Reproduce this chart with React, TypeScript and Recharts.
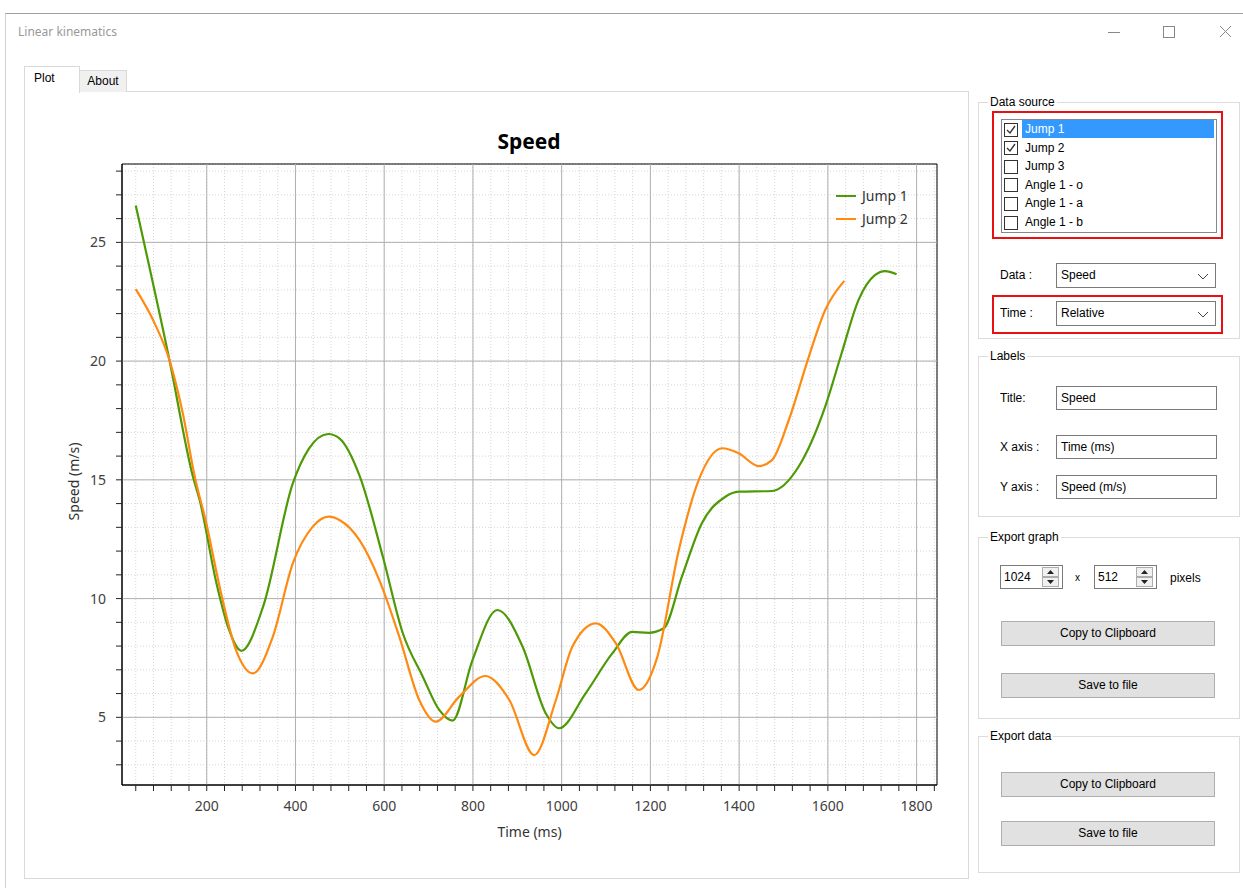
import { CSSProperties } from "react";
import {
  Label,
  Legend,
  Line,
  LineChart,
  CartesianGrid,
  ReferenceArea,
  ReferenceLine,
  XAxis,
  YAxis,
} from "recharts";

// values
const jump1Time = [40, 116, 169, 184, 222, 250, 278, 327, 394, 430, 474, 499, 545, 597, 642, 687, 724, 754, 799, 855, 912, 964, 994, 1054, 1114, 1159, 1196, 1230, 1271, 1316, 1369, 1399, 1474, 1534, 1594, 1631, 1669, 1706, 1729, 1755];
const jump1Speed = [26.55, 20.04, 15.13, 14.15, 10.64, 8.7, 7.8, 9.66, 14.85, 16.3, 16.93, 16.75, 15.15, 11.76, 8.54, 6.71, 5.31, 4.86, 7.41, 9.52, 7.97, 5.17, 4.54, 6.01, 7.69, 8.6, 8.56, 8.75, 10.92, 13.17, 14.29, 14.5, 14.53, 15.55, 18.08, 20.33, 22.57, 23.62, 23.79, 23.66];

const jump2Time = [40, 79, 116, 146, 173, 199, 229, 266, 304, 349, 394, 439, 475, 499, 544, 589, 634, 679, 716, 769, 828, 882, 938, 987, 1024, 1077, 1122, 1174, 1215, 1264, 1309, 1362, 1399, 1444, 1474, 1512, 1557, 1594, 1637];
const jump2Speed = [23.03, 21.73, 20.04, 17.8, 15.13, 13.17, 10.5, 7.83, 6.85, 8.4, 11.48, 13.03, 13.45, 13.31, 12.47, 10.78, 8.4, 5.73, 4.82, 5.87, 6.74, 5.73, 3.41, 5.73, 7.97, 8.96, 8.12, 6.15, 7.5, 12.04, 15.0, 16.33, 16.12, 15.58, 15.83, 17.52, 20.18, 22.15, 23.38];

const timeMajorTicks = [200, 400, 600, 800, 1000, 1200, 1400, 1600, 1800];
const timeMinorTicks = [40, 80, 120, 160, 200, 240, 280, 320, 360, 400, 440, 480, 520, 560, 600, 640, 680, 720, 760, 800, 840, 880, 920, 960, 1000, 1040, 1080, 1120, 1160, 1200, 1240, 1280, 1320, 1360, 1400, 1440, 1480, 1520, 1560, 1600, 1640, 1680, 1720, 1760, 1800, 1840];
const speedMajorTicks = [5, 10, 15, 20, 25];
const speedMinorTicks = [3, 4, 5, 6, 7, 8, 9, 10, 11, 12, 13, 14, 15, 16, 17, 18, 19, 20, 21, 22, 23, 24, 25, 26, 27, 28];
const timeDomain: [number, number] = [9, 1846];
const speedDomain: [number, number] = [2.15, 28.3];

const sourceNames = ["Jump 1", "Jump 2", "Jump 3", "Angle 1 - o", "Angle 1 - a", "Angle 1 - b"];
const sourceChecked = [true, true, false, false, false, false];

const jump1Data = jump1Time.map((t, i) => ({ time: t, speed: jump1Speed[i] }));
const jump2Data = jump2Time.map((t, i) => ({ time: t, speed: jump2Speed[i] }));

const chartFont = "'Noto Sans', 'Open Sans', sans-serif";
const uiFont = "'Liberation Sans', Arial, sans-serif";

function TimeTick(props: any) {
  const { x, y, payload } = props;
  const major = timeMajorTicks.includes(payload.value);
  return (
    <g>
      <line x1={x} y1={y} x2={x} y2={y + 6} stroke="#222" />
      {major && (
        <text x={x} y={y + 26} textAnchor="middle" fontSize={14} fill="#404040" fontFamily={chartFont}>
          {payload.value}
        </text>
      )}
    </g>
  );
}

function SpeedTick(props: any) {
  const { x, y, payload } = props;
  const major = speedMajorTicks.includes(payload.value);
  return (
    <g>
      <line x1={x - 6} y1={y} x2={x} y2={y} stroke="#222" />
      {major && (
        <text x={x - 16} y={y + 5} textAnchor="end" fontSize={14} fill="#404040" fontFamily={chartFont}>
          {payload.value}
        </text>
      )}
    </g>
  );
}

function LegendBox(props: any) {
  const items = props.payload || [];
  return (
    <div style={{ fontFamily: chartFont, fontSize: 14, color: "#333" }}>
      {items.map((it: any) => (
        <div key={it.value} style={{ display: "flex", alignItems: "center", height: 23 }}>
          <span style={{ display: "inline-block", width: 20, height: 2, background: it.color, marginRight: 6 }} />
          {it.value}
        </div>
      ))}
    </div>
  );
}

function SpeedChart() {
  return (
    <LineChart width={927} height={735} margin={{ top: 44, right: 20, bottom: 10, left: 0 }}>
      <CartesianGrid stroke="#d6d6d6" strokeDasharray="1 2" />
      {timeMajorTicks.map((t) => (
        <ReferenceLine key={"t" + t} x={t} stroke="#b0b0b0" />
      ))}
      {speedMajorTicks.map((v) => (
        <ReferenceLine key={"v" + v} y={v} stroke="#b0b0b0" />
      ))}
      <XAxis
        dataKey="time"
        type="number"
        domain={timeDomain}
        allowDataOverflow
        ticks={timeMinorTicks}
        interval={0}
        tick={<TimeTick />}
        tickLine={false}
        tickSize={0}
        tickMargin={0}
        height={60}
        axisLine={{ stroke: "#000" }}
      >
        <Label
          content={(p: any) => (
            <text x={p.viewBox.x + p.viewBox.width / 2} y={p.viewBox.y + 52} textAnchor="middle" fontSize={14} fill="#333" fontFamily={chartFont}>
              Time (ms)
            </text>
          )}
        />
      </XAxis>
      <YAxis
        type="number"
        domain={speedDomain}
        allowDataOverflow
        ticks={speedMinorTicks}
        interval={0}
        tick={<SpeedTick />}
        tickLine={false}
        tickSize={0}
        tickMargin={0}
        width={92}
        axisLine={{ stroke: "#000" }}
      >
        <Label
          content={(p: any) => {
            const cx = p.viewBox.x + 49;
            const cy = p.viewBox.y + p.viewBox.height / 2 + 7;
            return (
              <text x={cx} y={cy} transform={`rotate(-90 ${cx} ${cy})`} textAnchor="middle" fontSize={14} fill="#333" fontFamily={chartFont}>
                Speed (m/s)
              </text>
            );
          }}
        />
      </YAxis>
      <ReferenceArea x1={timeDomain[0]} x2={timeDomain[1]} y1={speedDomain[0]} y2={speedDomain[1]} fill="none" stroke="#000" />
      <Legend
        layout="vertical"
        align="center"
        verticalAlign="middle"
        content={<LegendBox />}
        wrapperStyle={{ top: 64, left: 806, width: 100 }}
      />
      <Line data={jump1Data} dataKey="speed" name="Jump 1" type="monotone" stroke="#4e9a06" strokeWidth={2.2} dot={false} isAnimationActive={false} />
      <Line data={jump2Data} dataKey="speed" name="Jump 2" type="monotone" stroke="#ff8a12" strokeWidth={2.2} dot={false} isAnimationActive={false} />
    </LineChart>
  );
}

const abs = (left: number, top: number, width: number, height: number, extra: CSSProperties = {}): CSSProperties => ({
  position: "absolute",
  left,
  top,
  width,
  height,
  boxSizing: "border-box",
  ...extra,
});

function Group({ x, y, w, h, title }: { x: number; y: number; w: number; h: number; title: string }) {
  return (
    <div style={abs(x, y, w, h, { border: "1px solid #dcdcdc" })}>
      <span style={{ position: "absolute", left: 9, top: -8, background: "#fff", padding: "0 2px", fontSize: 12, lineHeight: "14px", color: "#000" }}>
        {title}
      </span>
    </div>
  );
}

function TextLabel({ x, y, text }: { x: number; y: number; text: string }) {
  return <div style={abs(x, y - 8, 60, 16, { fontSize: 12, lineHeight: "16px", whiteSpace: "nowrap" })}>{text}</div>;
}

function Combo({ y, value }: { y: number; value: string }) {
  return (
    <div style={abs(1056, y, 160, 25, { border: "1px solid #7a7a7a", fontSize: 12, lineHeight: "23px", paddingLeft: 4 })}>
      {value}
      <svg width={12} height={8} style={{ position: "absolute", right: 6, top: 9 }}>
        <polyline points="1,1 6,6 11,1" fill="none" stroke="#444" strokeWidth={1} />
      </svg>
    </div>
  );
}

function TextBox({ y, value }: { y: number; value: string }) {
  return (
    <div style={abs(1056, y, 161, 24, { border: "1px solid #7a7a7a", fontSize: 12, lineHeight: "22px", paddingLeft: 4 })}>{value}</div>
  );
}

function Spinner({ x, value }: { x: number; value: string }) {
  return (
    <div style={abs(x, 565, 63, 24, { border: "1px solid #7a7a7a", fontSize: 12, lineHeight: "22px", paddingLeft: 3 })}>
      {value}
      <svg width={18} height={20} style={{ position: "absolute", right: 2, top: 1 }}>
        <rect x={0.5} y={0.5} width={16} height={9} fill="#f0f0f0" stroke="#adadad" />
        <rect x={0.5} y={10.5} width={16} height={9} fill="#f0f0f0" stroke="#adadad" />
        <polygon points="5,7 12,7 8.5,3" fill="#222" />
        <polygon points="5,13 12,13 8.5,17" fill="#222" />
      </svg>
    </div>
  );
}

function Button({ y, text }: { y: number; text: string }) {
  return (
    <div style={abs(1001, y, 214, 25, { background: "#e1e1e1", border: "1px solid #adadad", fontSize: 12, lineHeight: "23px", textAlign: "center" })}>
      {text}
    </div>
  );
}

export default function App() {
  return (
    <div style={abs(0, 0, 1243, 888, { background: "#fff", fontFamily: uiFont, color: "#000", overflow: "hidden" })}>
      {/* window frame */}
      <div style={abs(5, 13, 1250, 890, { borderTop: "1px solid #a0a0a0", borderLeft: "1px solid #d0d0d0" })} />
      <div style={abs(18, 24, 200, 16, { fontFamily: chartFont, fontSize: 12, color: "#999", lineHeight: "16px" })}>Linear kinematics</div>
      <svg style={abs(1100, 22, 140, 20)} width={140} height={20}>
        <line x1={8} y1={10.5} x2={20} y2={10.5} stroke="#888" />
        <rect x={63.5} y={4.5} width={11} height={11} fill="none" stroke="#888" />
        <line x1={120} y1={4} x2={131} y2={15} stroke="#888" />
        <line x1={131} y1={4} x2={120} y2={15} stroke="#888" />
      </svg>

      {/* tabs */}
      <div style={abs(24, 91, 945, 788, { border: "1px solid #d9d9d9" })} />
      <div style={abs(79, 70, 48, 22, { background: "#f0f0f0", border: "1px solid #d9d9d9", borderBottom: "none", fontSize: 12, lineHeight: "20px", textAlign: "center" })}>About</div>
      <div style={abs(24, 66, 56, 27, { background: "#fff", border: "1px solid #d9d9d9", borderBottom: "none", fontSize: 12, lineHeight: "22px", paddingLeft: 9 })}>Plot</div>

      {/* chart */}
      <div style={abs(429, 128, 200, 26, { fontFamily: chartFont, fontSize: 21, fontWeight: 700, textAlign: "center", lineHeight: "26px" })}>Speed</div>
      <div style={abs(30, 120, 927, 735)}>
        <SpeedChart />
      </div>

      {/* right panel */}
      <Group x={978} y={102} w={262} h={237} title="Data source" />
      <div style={abs(992, 111, 231, 128, { border: "2px solid #e81010" })} />
      <div style={abs(1001, 119, 216, 114, { border: "1px solid #828790" })} />
      {sourceNames.map((name, i) => {
        const top = 120 + i * 18.6;
        return (
          <div key={name}>
            <svg style={abs(1004, top + 2.5, 14, 14)} width={14} height={14}>
              <rect x={0.5} y={0.5} width={13} height={13} fill="#fff" stroke="#333" />
              {sourceChecked[i] && <polyline points="3,7 6,10 11,3" fill="none" stroke="#333" strokeWidth={1.3} />}
            </svg>
            <div
              style={abs(1022, top, 192, 18, {
                background: i === 0 ? "#3399ff" : "transparent",
                color: i === 0 ? "#fff" : "#000",
                fontSize: 12,
                lineHeight: "18px",
                paddingLeft: 3,
              })}
            >
              {name}
            </div>
          </div>
        );
      })}
      <TextLabel x={1000} y={275} text="Data :" />
      <Combo y={263} value="Speed" />
      <div style={abs(992, 295, 231, 39, { border: "2px solid #e81010" })} />
      <TextLabel x={1000} y={313} text="Time :" />
      <Combo y={301} value="Relative" />

      <Group x={978} y={356} w={262} h={161} title="Labels" />
      <TextLabel x={1000} y={398} text="Title:" />
      <TextBox y={386} value="Speed" />
      <TextLabel x={1000} y={447} text="X axis :" />
      <TextBox y={435} value="Time (ms)" />
      <TextLabel x={1000} y={487} text="Y axis :" />
      <TextBox y={475} value="Speed (m/s)" />

      <Group x={978} y={537} w={262} h={182} title="Export graph" />
      <Spinner x={1000} value="1024" />
      <div style={abs(1075, 570, 10, 16, { fontSize: 10, lineHeight: "16px" })}>x</div>
      <Spinner x={1094} value="512" />
      <TextLabel x={1170} y={578} text="pixels" />
      <Button y={621} text="Copy to Clipboard" />
      <Button y={673} text="Save to file" />

      <Group x={978} y={736} w={262} h={137} title="Export data" />
      <Button y={772} text="Copy to Clipboard" />
      <Button y={821} text="Save to file" />
    </div>
  );
}
